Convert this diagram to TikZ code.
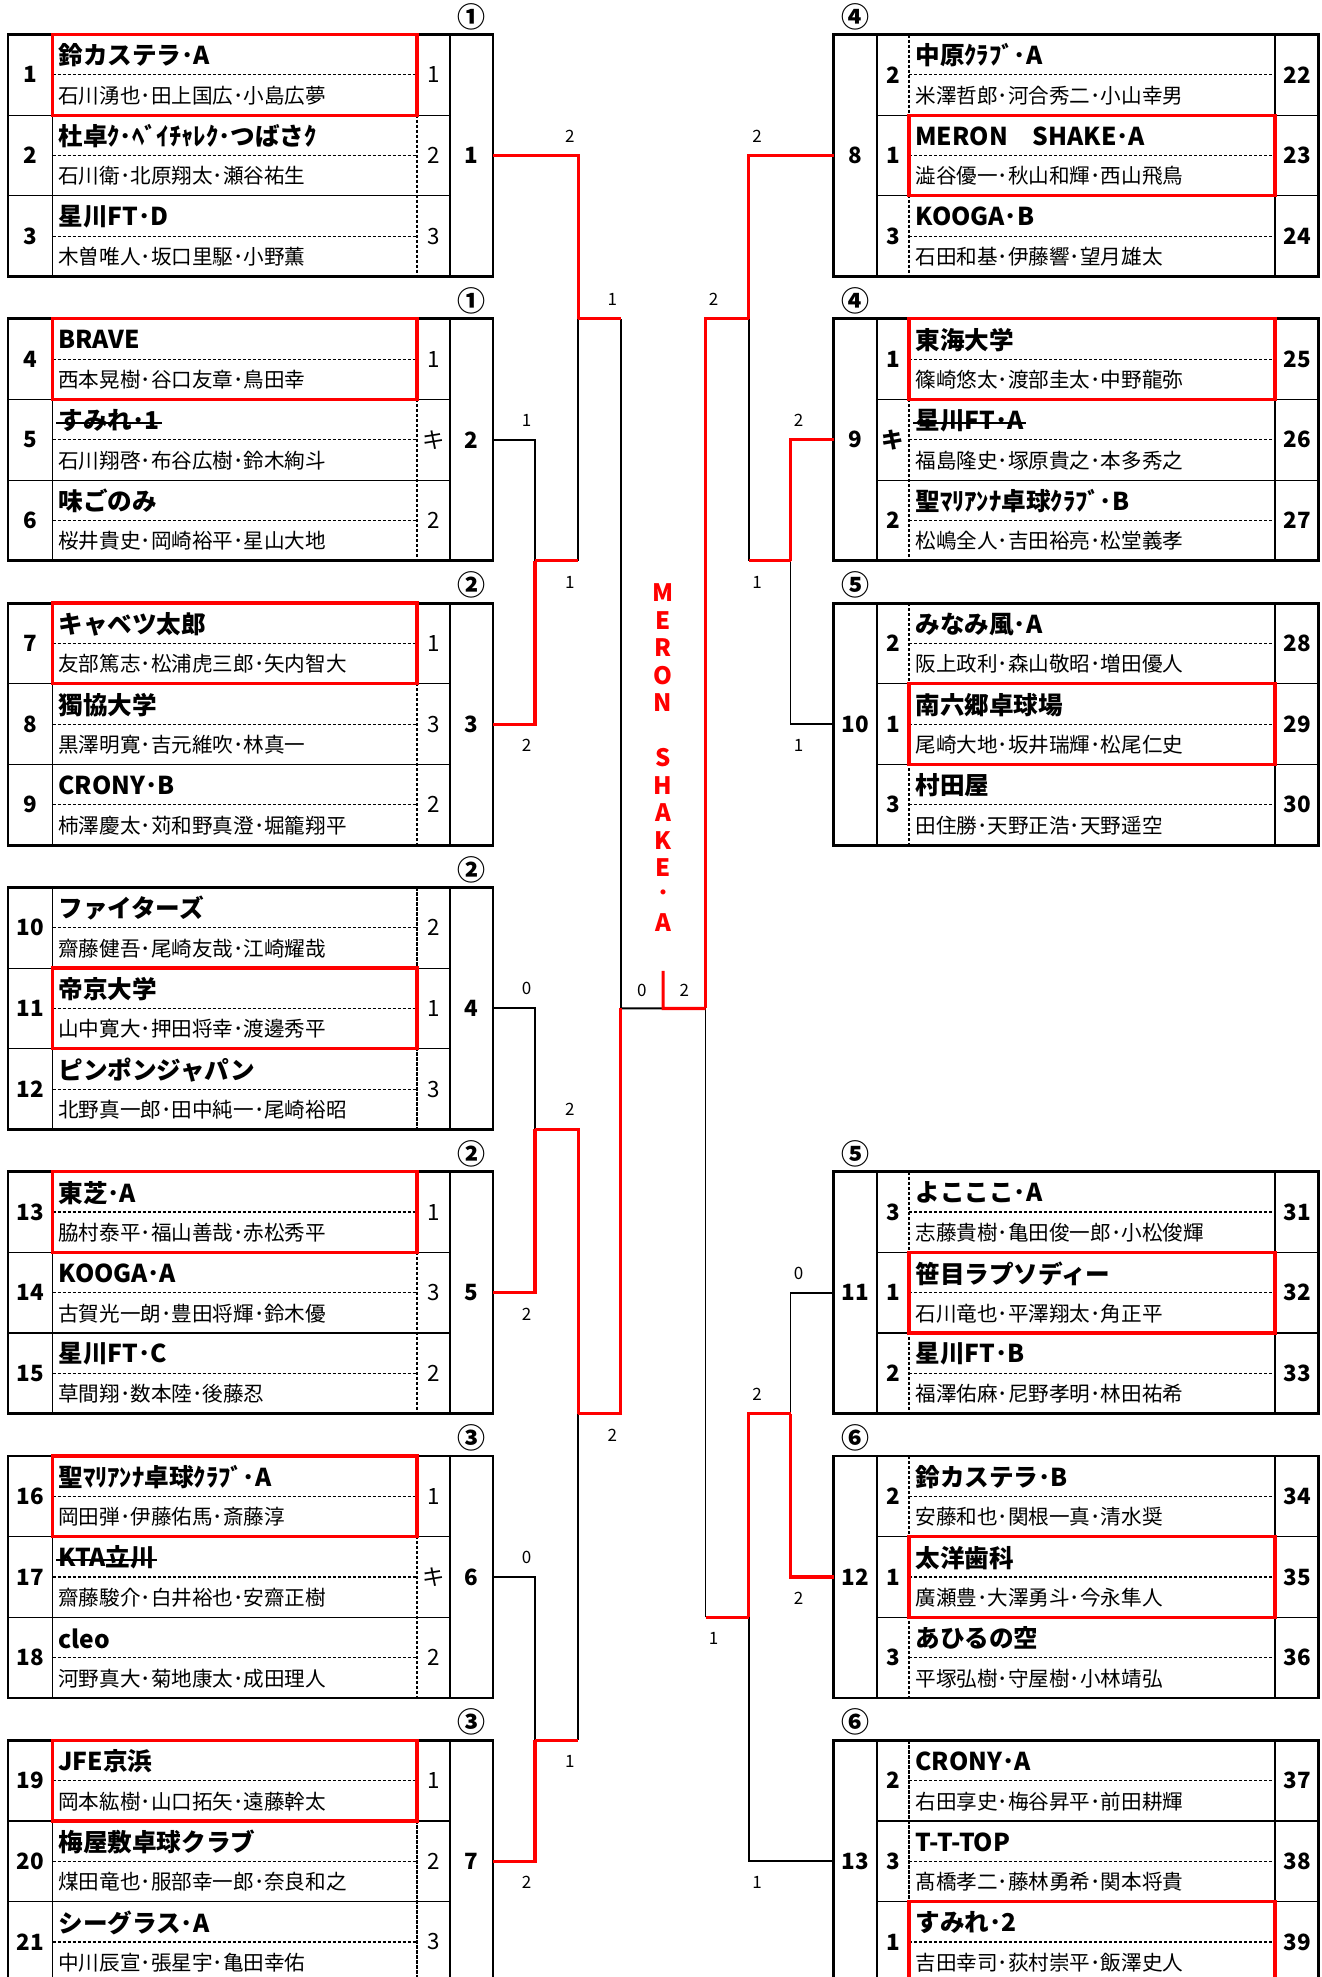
\documentclass[tikz,border=0pt]{standalone}
\usepackage{fontspec}
\setmainfont{Noto Sans CJK JP}
\usetikzlibrary{calc}

\begin{document}
\begin{tikzpicture}[x=0.5pt, y=-0.5pt,
    tbox/.style={draw, line width=1.4pt, minimum width=242.5pt,
      minimum height=121pt, inner sep=0pt, outer sep=0pt},
    grid line/.style={line width=0.55pt},
    grid dash/.style={line width=0.55pt, dash pattern=on 1.6pt off 0.9pt},
    win box/.style={draw=red, line width=1.65pt},
    win line/.style={draw=red, line width=1.6pt},
    lose line/.style={draw=black, line width=0.95pt},
    team name/.style={anchor=west, inner sep=0pt,
      font=\bfseries\fontsize{12.3pt}{14pt}\selectfont},
    member/.style={anchor=west, inner sep=0pt,
      font=\fontsize{10.3pt}{12pt}\selectfont},
    seed/.style={inner sep=0pt, font=\bfseries\fontsize{11.2pt}{13pt}\selectfont},
    rank/.style={inner sep=0pt, font=\fontsize{11.2pt}{13pt}\selectfont},
    rank r/.style={seed},
    circ/.style={inner sep=0pt, font=\bfseries\fontsize{14pt}{16pt}\selectfont},
    score/.style={inner sep=0pt, font=\fontsize{8.5pt}{10pt}\selectfont},
    sc ul/.style={score, xshift=-4.2pt, yshift=9.8pt},
    sc dl/.style={score, xshift=-4.2pt, yshift=-10.6pt},
    sc ur/.style={score, xshift=4.1pt, yshift=9.8pt},
    sc dr/.style={score, xshift=4.1pt, yshift=-10.6pt},
    champ/.style={inner sep=0pt, text=red,
      font=\bfseries\fontsize{12pt}{14pt}\selectfont},
    strike line/.style={line width=1pt},
  ]
  \useasboundingbox (0,0) rectangle (1322,1977);
  \clip (0,0) rectangle (1322,1977);

  \foreach \g/\cl in {1/①,2/①,3/②,4/②,5/②,6/③,7/③} {
    \pgfmathsetmacro\gy{34.5+(\g-1)*284.3}
    \node[tbox] (box\g) at (250.5,\gy+121) {};
    \draw[grid line] (52.5,\gy) -- (52.5,\gy+242) (450,\gy) -- (450,\gy+242)
      (8,\gy+80.67) -- (450,\gy+80.67) (8,\gy+161.33) -- (450,\gy+161.33);
    \draw[grid dash] (417,\gy) -- (417,\gy+242)
      (52.5,\gy+40.33) -- (417,\gy+40.33) (52.5,\gy+121) -- (417,\gy+121)
      (52.5,\gy+201.67) -- (417,\gy+201.67);
    \node[seed] (gn\g) at ($(box\g.east)+(-21.5,0)$) {\g};
    \node[circ] (cl\g) at ($(box\g.north east)+(-21.5,-18)$) {\cl};
  }
  \foreach \g/\s/\cl in {8/0/④,9/1/④,10/2/⑤,11/4/⑤,12/5/⑥,13/6/⑥} {
    \pgfmathsetmacro\gy{34.5+\s*284.3}
    \node[tbox] (box\g) at (1076,\gy+121) {};
    \draw[grid line] (877,\gy) -- (877,\gy+242) (1275,\gy) -- (1275,\gy+242)
      (877,\gy+80.67) -- (1319,\gy+80.67) (877,\gy+161.33) -- (1319,\gy+161.33);
    \draw[grid dash] (909,\gy) -- (909,\gy+242)
      (909,\gy+40.33) -- (1275,\gy+40.33) (909,\gy+121) -- (1275,\gy+121)
      (909,\gy+201.67) -- (1275,\gy+201.67);
    \node[seed] (gn\g) at ($(box\g.west)+(22,0)$) {\g};
    \node[circ] (cl\g) at ($(box\g.north west)+(22,-18)$) {\cl};
  }

  \foreach \n in {1,4,7,11,13,16,19} {
    \pgfmathsetmacro\ty{34.5+div(\n-1,3)*284.3+mod(\n-1,3)*80.667}
    \draw[win box] (52.5,\ty) rectangle (417,\ty+80.67);
  }
  \foreach \n in {23,25,29,32,35,39} {
    \pgfmathtruncatemacro\gp{div(\n-22,3)}
    \pgfmathsetmacro\ty{34.5+(\gp+(\gp>2))*284.3+mod(\n-22,3)*80.667}
    \draw[win box] (909,\ty) rectangle (1275,\ty+80.67);
  }

  \foreach \n/\nm/\mb/\rk in {
    1/鈴カステラ･A/石川湧也･田上国広･小島広夢/1,
    2/杜卓ｸ･ﾍﾞｲﾁｬﾚｸ･つばさｸ/石川衛･北原翔太･瀬谷祐生/2,
    3/星川FT･D/木曽唯人･坂口里駆･小野薫/3,
    4/BRAVE/西本晃樹･谷口友章･鳥田幸/1,
    5/すみれ･1/石川翔啓･布谷広樹･鈴木絢斗/キ,
    6/味ごのみ/桜井貴史･岡崎裕平･星山大地/2,
    7/キャベツ太郎/友部篤志･松浦虎三郎･矢内智大/1,
    8/獨協大学/黒澤明寛･吉元維吹･林真一/3,
    9/CRONY･B/柿澤慶太･苅和野真澄･堀籠翔平/2,
    10/ファイターズ/齋藤健吾･尾崎友哉･江崎耀哉/2,
    11/帝京大学/山中寛大･押田将幸･渡邊秀平/1,
    12/ピンポンジャパン/北野真一郎･田中純一･尾崎裕昭/3,
    13/東芝･A/脇村泰平･福山善哉･赤松秀平/1,
    14/KOOGA･A/古賀光一朗･豊田将輝･鈴木優/3,
    15/星川FT･C/草間翔･数本陸･後藤忍/2,
    16/聖ﾏﾘｱﾝﾅ卓球ｸﾗﾌﾞ･A/岡田弾･伊藤佑馬･斎藤淳/1,
    17/KTA立川/齋藤駿介･白井裕也･安齋正樹/キ,
    18/cleo/河野真大･菊地康太･成田理人/2,
    19/JFE京浜/岡本紘樹･山口拓矢･遠藤幹太/1,
    20/梅屋敷卓球クラブ/煤田竜也･服部幸一郎･奈良和之/2,
    21/シーグラス･A/中川辰宣･張星宇･亀田幸佑/3} {
    \pgfmathsetmacro\ty{34.5+div(\n-1,3)*284.3+mod(\n-1,3)*80.667}
    \node[seed] (no\n) at (30.25,\ty+40.33) {\n};
    \node[team name] (nm\n) at (58,\ty+21) {\nm};
    \node[member] (mb\n) at (58,\ty+61) {\mb};
    \node[rank] (rk\n) at (433.5,\ty+40.33) {\rk};
  }
  \foreach \n/\nm/\mb/\rk in {
    22/中原ｸﾗﾌﾞ･A/米澤哲郎･河合秀二･小山幸男/2,
    23/MERON　SHAKE･A/澁谷優一･秋山和輝･西山飛鳥/1,
    24/KOOGA･B/石田和基･伊藤響･望月雄太/3,
    25/東海大学/篠崎悠太･渡部圭太･中野龍弥/1,
    26/星川FT･A/福島隆史･塚原貴之･本多秀之/キ,
    27/聖ﾏﾘｱﾝﾅ卓球ｸﾗﾌﾞ･B/松嶋全人･吉田裕亮･松堂義孝/2,
    28/みなみ風･A/阪上政利･森山敬昭･増田優人/2,
    29/南六郷卓球場/尾崎大地･坂井瑞輝･松尾仁史/1,
    30/村田屋/田住勝･天野正浩･天野遥空/3,
    31/よこここ･A/志藤貴樹･亀田俊一郎･小松俊輝/3,
    32/笹目ラプソディー/石川竜也･平澤翔太･角正平/1,
    33/星川FT･B/福澤佑麻･尼野孝明･林田祐希/2,
    34/鈴カステラ･B/安藤和也･関根一真･清水奨/2,
    35/太洋歯科/廣瀬豊･大澤勇斗･今永隼人/1,
    36/あひるの空/平塚弘樹･守屋樹･小林靖弘/3,
    37/CRONY･A/右田享史･梅谷昇平･前田耕輝/2,
    38/T-T-TOP/髙橋孝二･藤林勇希･関本将貴/3,
    39/すみれ･2/吉田幸司･荻村崇平･飯澤史人/1} {
    \pgfmathtruncatemacro\gp{div(\n-22,3)}
    \pgfmathsetmacro\ty{34.5+(\gp+(\gp>2))*284.3+mod(\n-22,3)*80.667}
    \node[seed] (no\n) at (1297,\ty+40.33) {\n};
    \node[team name] (nm\n) at (915,\ty+21) {\nm};
    \node[member] (mb\n) at (915,\ty+61) {\mb};
    \node[rank r] (rk\n) at (893,\ty+40.33) {\rk};
  }
  \foreach \n in {5,17,26}
    \draw[strike line] ([xshift=-1pt,yshift=-1.2pt]nm\n.west)
      -- ([xshift=1pt,yshift=-1.2pt]nm\n.east);

  \coordinate (mA1) at ($(box2.south east)+(42,0)$);
  \coordinate (mB1) at ($(box2.north east)+(85.3,0)$);
  \coordinate (mA2) at ($(box4.south east)+(42,0)$);
  \coordinate (mA3) at ($(box7.north east)+(42,0)$);
  \coordinate (mB2) at ($(box5.south east)+(85.3,0)$);
  \coordinate (mC) at ($(box4.east)+(127.7,0)$);
  \coordinate (nA1) at ($(box9.south west)+(-43,0)$);
  \coordinate (nB1) at ($(box9.north west)+(-84.7,0)$);
  \coordinate (nA2) at ($(box11.south west)+(-43,0)$);
  \coordinate (nB2) at ($(box12.north west)!0.6667!(box12.south west)+(-84.7,0)$);
  \coordinate (nC) at ($(box9.west |- mC)+(-128,0)$);
  \coordinate (fin) at ($(mC)!0.5!(nC)$);
  \coordinate (finTop) at ($(fin)+(0,-37.6)$);

  \draw[lose line] (box2.east) -| node[pos=.5, sc ul] (s1) {1} (mA1);
  \draw[lose line] (mA1 -| mB1) -- (mB1);
  \draw[lose line] (box4.east) -| node[pos=.5, sc ul] (s2) {0} (mA2);
  \draw[lose line] (box6.east) -| node[pos=.5, sc ul] (s3) {0} (mA3);
  \draw[lose line] (mA3 -| mB2) -- (mB2);
  \draw[lose line] (mB1 -| mC) -- (mC);
  \draw[lose line] (mC) -- node[midway, score, yshift=9pt] (s4) {0} (fin);
  \draw[lose line] (box10.west) -| node[pos=.5, sc dr] (s5) {1} (nA1);
  \draw[lose line] (nA1 -| nB1) -- (nB1);
  \draw[lose line] (box11.west) -| node[pos=.5, sc ur] (s6) {0} (nA2);
  \draw[lose line] (box13.west) -| node[pos=.5, sc dr] (s7) {1} (nB2);
  \draw[lose line] (nB2 -| nC) -- (nC);

  \draw[win line] (box3.east) -| node[pos=.5, sc dl] (s8) {2} (mA1);
  \draw[win line] (box1.east) -| node[pos=.5, sc ul] (s9) {2} (mB1);
  \draw[win line] (mA1) -- (mA1 -| mB1) node[sc dl] (s10) {1};
  \draw[win line] (box5.east) -| node[pos=.5, sc dl] (s11) {2} (mA2);
  \draw[win line] (box7.east) -| node[pos=.5, sc dl] (s12) {2} (mA3);
  \draw[win line] (mA2) -- (mA2 -| mB2) node[sc ul] (s13) {2} -- (mB2);
  \draw[win line] (mA3) -- (mA3 -| mB2) node[sc dl] (s14) {1};
  \draw[win line] (mB1) -- (mB1 -| mC) node[sc ul] (s15) {1};
  \draw[win line] (mB2) -- (mB2 -| mC) node[sc dl] (s16) {2} -- (mC);
  \draw[win line] (box9.west) -| node[pos=.5, sc ur] (s17) {2} (nA1);
  \draw[win line] (box8.west) -| node[pos=.5, sc ur] (s18) {2} (nB1);
  \draw[win line] (nA1) -- (nA1 -| nB1) node[sc dr] (s19) {1};
  \draw[win line] (nB1) -- (nB1 -| nC) node[sc ur] (s20) {2} -- (nC);
  \draw[win line] (box12.west) -| node[pos=.5, sc dr] (s21) {2} (nA2);
  \draw[win line] (nA2) -- (nA2 -| nB2) node[sc ur] (s22) {2} -- (nB2);
  \draw[win line] (nB2) -- (nB2 -| nC) node[sc dr] (s23) {1};
  \draw[win line] (nC) -- node[midway, score, yshift=9pt] (s24) {2} (fin) -- (finTop);

  \foreach \ch/\k in {M/0,E/1,R/2,O/3,N/4,S/6,H/7,A/8,K/9,E/10,･/11,A/12}
    \node[champ] (w\k) at ($(fin)+(0,-415.4+\k*27.5)$) {\ch};
\end{tikzpicture}
\end{document}
